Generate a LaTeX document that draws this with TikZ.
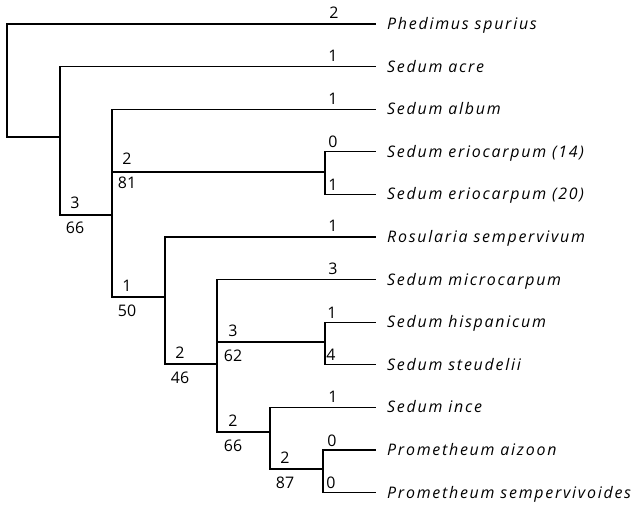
\documentclass[tikz,border=0pt]{standalone}
\usepackage{fontspec}
\setmainfont{Open Sans}
\newfontfamily\spfont[LetterSpace=11]{Open Sans}
\begin{document}
\begin{tikzpicture}[x=1bp,y=-1bp,
  br/.style={line width=1.3bp, line cap=rect, line join=miter},
  sp/.style={anchor=base west, inner sep=0pt, font=\fontsize{16}{19}\spfont\itshape},
  num/.style={anchor=base, inner sep=0pt, font=\fontsize{16}{19}\selectfont}]
\useasboundingbox (0,0) rectangle (637,505);
% leaf ends
\foreach \i/\y in {1/24,2/66.6,3/109.2,4/151.8,5/194.4,6/237,7/279.6,8/322.2,9/364.8,10/407.4,11/450,12/492.6}
  \coordinate (L\i) at (375,\y);
% species names
\node[sp] (t1)  at (387,29.5)  {Phedimus spurius};
\node[sp] (t2)  at (387,72.1)  {Sedum acre};
\node[sp] (t3)  at (387,114.7) {Sedum album};
\node[sp] (t4)  at (387,157.3) {Sedum eriocarpum (14)};
\node[sp] (t5)  at (387,199.9) {Sedum eriocarpum (20)};
\node[sp] (t6)  at (387,242.5) {Rosularia sempervivum};
\node[sp] (t7)  at (387,285.1) {Sedum microcarpum};
\node[sp] (t8)  at (387,327.7) {Sedum hispanicum};
\node[sp] (t9)  at (387,370.3) {Sedum steudelii};
\node[sp] (t10) at (387,412.9) {Sedum ince};
\node[sp] (t11) at (387,455.5) {Prometheum aizoon};
\node[sp] (t12) at (387,498.1) {Prometheum sempervivoides};
% internal points
\coordinate (R)   at (7,137);
\coordinate (B1)  at (60,137);
\coordinate (Bb)  at (60,215);
\coordinate (C1)  at (112,215);
\coordinate (Cm)  at (112,172);
\coordinate (Cb)  at (112,297);
\coordinate (Ej)  at (325,172);
\coordinate (D1)  at (165,297);
\coordinate (Db)  at (165,364);
\coordinate (E1)  at (217,364);
\coordinate (Em)  at (217,342);
\coordinate (Eb)  at (217,432);
\coordinate (Hj)  at (325,342);
\coordinate (F1)  at (270,432);
\coordinate (Fb)  at (270,469);
\coordinate (Pj)  at (323,469);
% branches
\draw[br] (L1) -| (R) -- (B1);
\draw[br] (L2) -| (Bb) -- (C1);
\draw[br] (L3) -| (Cb) -- (D1);
\draw[br] (Cm) -- (Ej);
\draw[br] (L4) -| (Ej) |- (L5);
\draw[br] (L6) -| (Db) -- (E1);
\draw[br] (L7) -| (Eb) -- (F1);
\draw[br] (Em) -- (Hj);
\draw[br] (L8) -| (Hj) |- (L9);
\draw[br] (L10) -| (Fb) -- (Pj);
\draw[br] (L11) -| (Pj) |- (L12);
% leaf branch labels
\node[num] (n1)  at (334,19)    {2};
\node[num] (n2)  at (333,61.6)  {1};
\node[num] (n3)  at (333,104.2) {1};
\node[num] (n4)  at (333,147.8) {0};
\node[num] (n5)  at (333,190.4) {1};
\node[num] (n6)  at (333,232)   {1};
\node[num] (n7)  at (333,274.6) {3};
\node[num] (n8)  at (332,318.2) {1};
\node[num] (n9)  at (331,360.8) {4};
\node[num] (n10) at (333,402.4) {1};
\node[num] (n11) at (332,446)   {0};
\node[num] (n12) at (331,488.6) {0};
% internal branch labels
\node[num] (a1) at (75,209)  {3};  \node[num] (b1) at (75,234)  {66};
\node[num] (a2) at (127,165) {2};  \node[num] (b2) at (127,189) {81};
\node[num] (a3) at (127,291) {1};  \node[num] (b3) at (127,316) {50};
\node[num] (a4) at (180,358) {2};  \node[num] (b4) at (180,383) {46};
\node[num] (a5) at (233,336) {3};  \node[num] (b5) at (233,361) {62};
\node[num] (a6) at (233,426) {2};  \node[num] (b6) at (233,451) {66};
\node[num] (a7) at (285,463) {2};  \node[num] (b7) at (285,488) {87};
\end{tikzpicture}
\end{document}
